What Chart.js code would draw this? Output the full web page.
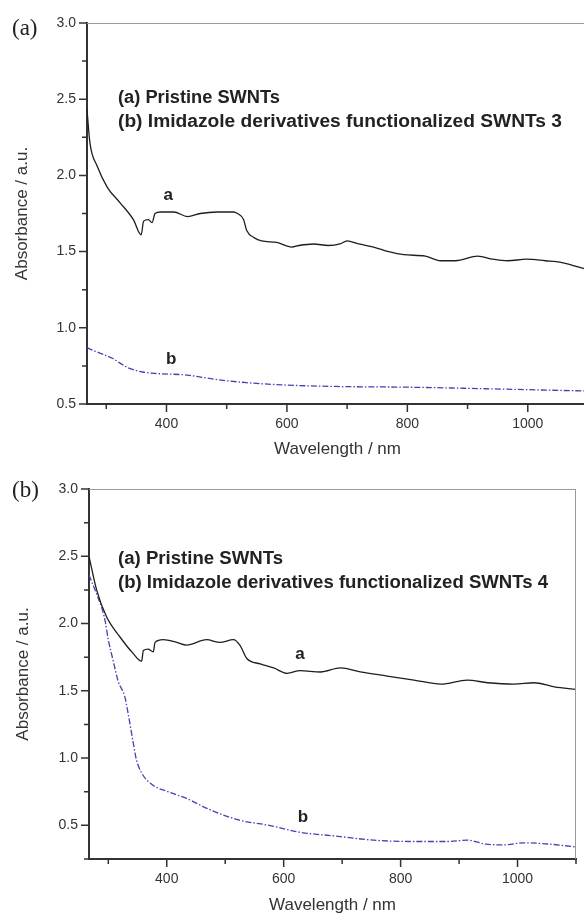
<!DOCTYPE html>
<html>
<head>
<meta charset="utf-8">
<title>UV-vis-NIR spectra of SWNTs</title>
<script src="https://cdn.jsdelivr.net/npm/chart.js@4.4.1/dist/chart.umd.min.js"></script>
<style>
    html, body { margin: 0; padding: 0; background: #fff; overflow: hidden; }
    #page { position: relative; width: 584px; height: 916px; overflow: hidden; }
    #panelA { position: absolute; left: 0; top: 0; }
    #panelB { position: absolute; left: 0; top: 460px; }
</style>
</head>
<body>
<div id="page">
    <canvas id="panelA" width="600" height="460"></canvas>
    <canvas id="panelB" width="588" height="456"></canvas>
</div>
<script>
// Spectra, panel (a): pristine SWNTs and SWNTs 3
const pristineA_nm  = [268, 273, 285, 302, 323, 345, 358, 362, 370, 376, 381, 390, 412, 435, 456, 484, 511, 518, 528, 533, 546, 558, 583, 608, 620, 644, 669, 688, 700, 719, 744, 769, 794, 830, 855, 880, 917, 942, 967, 998, 1029, 1055, 1100];
const pristineA_abs = [2.43, 2.21, 2.06, 1.92, 1.82, 1.71, 1.61, 1.70, 1.71, 1.69, 1.75, 1.76, 1.76, 1.73, 1.75, 1.76, 1.76, 1.75, 1.71, 1.64, 1.59, 1.57, 1.56, 1.53, 1.54, 1.55, 1.54, 1.55, 1.57, 1.55, 1.53, 1.50, 1.48, 1.47, 1.44, 1.44, 1.47, 1.45, 1.44, 1.45, 1.44, 1.43, 1.38];

const swnt3_nm  = [268, 273, 310, 335, 360, 384, 434, 484, 533, 595, 682, 805, 930, 1100];
const swnt3_abs = [0.87, 0.86, 0.80, 0.74, 0.71, 0.70, 0.69, 0.66, 0.64, 0.625, 0.615, 0.61, 0.60, 0.585];

// Spectra, panel (b): pristine SWNTs and SWNTs 4
const pristineB_nm  = [267, 280, 297, 320, 342, 357, 360, 368, 377, 380, 394, 417, 434, 468, 491, 514, 525, 537, 560, 583, 606, 628, 663, 697, 731, 777, 823, 869, 914, 949, 994, 1028, 1063, 1100];
const pristineB_abs = [2.50, 2.25, 2.05, 1.90, 1.78, 1.72, 1.80, 1.81, 1.79, 1.86, 1.88, 1.86, 1.84, 1.88, 1.86, 1.88, 1.84, 1.74, 1.70, 1.67, 1.63, 1.65, 1.64, 1.67, 1.64, 1.61, 1.58, 1.55, 1.58, 1.56, 1.55, 1.56, 1.53, 1.51];

const swnt4_nm  = [267, 280, 290, 295, 300, 308, 317, 328, 334, 342, 348, 357, 376, 402, 434, 472, 523, 575, 626, 690, 754, 818, 882, 914, 946, 978, 1010, 1042, 1100];
const swnt4_abs = [2.36, 2.22, 2.10, 2.01, 1.88, 1.73, 1.57, 1.46, 1.33, 1.13, 0.99, 0.89, 0.80, 0.75, 0.70, 0.62, 0.54, 0.50, 0.45, 0.42, 0.39, 0.38, 0.38, 0.39, 0.36, 0.355, 0.37, 0.365, 0.34];

// Axis limits and tick steps
const xRangeA = [268, 1100];
const xRangeB = [267, 1100];
const yRangeA = [0.5, 3.0];
const yRangeB = [0.25, 3.0];
const xStep = 100;   // minor step, labels every 200
const yStep = 0.25;  // minor step, labels every 0.5

const legendA = ['(a) Pristine SWNTs', '(b) Imidazole derivatives functionalized SWNTs 3'];
const legendB = ['(a) Pristine SWNTs', '(b) Imidazole derivatives functionalized SWNTs 4'];

const SANS = '"Liberation Sans", Arial, Helvetica, sans-serif';
const SERIF = '"Liberation Serif", "Times New Roman", serif';
const AXIS_COLOR = '#333';

function toPoints(xs, ys) {
    return xs.map((x, i) => ({ x: x, y: ys[i] }));
}

function isMultiple(v, step) {
    const r = v / step;
    return Math.abs(r - Math.round(r)) < 1e-6;
}

// Frame, outward tick marks and the text drawn on top of each panel
const panelDecor = {
    id: 'panelDecor',
    afterDraw(chart, args, opts) {
        const ctx = chart.ctx;
        const area = chart.chartArea;
        const xs = chart.scales.x;
        const ys = chart.scales.y;

        ctx.save();

        // thin grey frame at the top (and right on panel b)
        ctx.strokeStyle = '#9a9a9a';
        ctx.lineWidth = 1;
        ctx.beginPath();
        ctx.moveTo(area.left, area.top + 0.5);
        ctx.lineTo(area.right, area.top + 0.5);
        if (opts.rightFrame) {
            ctx.moveTo(area.right - 0.5, area.top);
            ctx.lineTo(area.right - 0.5, area.bottom);
        }
        ctx.stroke();

        // outward ticks, long on labelled values
        ctx.strokeStyle = AXIS_COLOR;
        ctx.lineWidth = 1.5;
        ctx.beginPath();
        xs.ticks.forEach(t => {
            const p = xs.getPixelForValue(t.value);
            const len = isMultiple(t.value, 2 * xStep) ? 8 : 5;
            ctx.moveTo(p, area.bottom);
            ctx.lineTo(p, area.bottom + len);
        });
        ys.ticks.forEach(t => {
            const p = ys.getPixelForValue(t.value);
            const len = isMultiple(t.value, 2 * yStep) ? 8 : 5;
            ctx.moveTo(area.left, p);
            ctx.lineTo(area.left - len, p);
        });
        ctx.stroke();

        // panel letter
        ctx.fillStyle = '#222';
        ctx.font = '23px ' + SERIF;
        ctx.textAlign = 'left';
        ctx.textBaseline = 'middle';
        ctx.fillText(opts.panel, 12, opts.panelY);

        // legend text, each line stretched to its set width
        ctx.font = 'bold 18px ' + SANS;
        opts.legend.forEach((line, i) => {
            const w = ctx.measureText(line).width;
            const sx = opts.legendWidths[i] / w;
            ctx.save();
            ctx.translate(opts.legendX, opts.legendY + i * 24);
            ctx.scale(sx, 1);
            ctx.fillText(line, 0, 0);
            ctx.restore();
        });

        // curve letters, placed in data units
        ctx.font = 'bold 17px ' + SANS;
        ctx.textAlign = 'center';
        opts.curveLabels.forEach(l => {
            ctx.fillText(l.text, xs.getPixelForValue(l.x), ys.getPixelForValue(l.y));
        });

        ctx.restore();
    }
};

function makePanel(canvasId, cfg) {
    const ctx = document.getElementById(canvasId).getContext('2d');
    return new Chart(ctx, {
        type: 'line',
        data: {
            datasets: [
                {
                    label: 'Pristine SWNTs',
                    data: toPoints(cfg.pristineX, cfg.pristineY),
                    borderColor: '#1e1e1e',
                    borderWidth: 1.3,
                    cubicInterpolationMode: 'monotone',
                    pointRadius: 0
                },
                {
                    label: 'Functionalized SWNTs',
                    data: toPoints(cfg.funcX, cfg.funcY),
                    borderColor: '#4242b2',
                    borderWidth: 1.3,
                    borderDash: [6, 2, 1.5, 2],
                    cubicInterpolationMode: 'monotone',
                    pointRadius: 0
                }
            ]
        },
        options: {
            responsive: false,
            animation: false,
            layout: { padding: { left: 0, top: cfg.top, right: cfg.right, bottom: 0 } },
            plugins: {
                legend: { display: false },
                tooltip: { enabled: false },
                panelDecor: cfg.decor
            },
            scales: {
                x: {
                    type: 'linear',
                    min: cfg.xRange[0],
                    max: cfg.xRange[1],
                    afterFit: s => { s.height = cfg.xAxisHeight; },
                    grid: { display: true, drawOnChartArea: false, drawTicks: false },
                    border: { color: AXIS_COLOR, width: 2 },
                    ticks: {
                        stepSize: xStep,
                        includeBounds: false,
                        autoSkip: false,
                        maxRotation: 0,
                        padding: 12,
                        color: '#333',
                        font: { family: SANS, size: 14 },
                        callback: v => isMultiple(v, 2 * xStep) ? String(v) : ''
                    },
                    title: {
                        display: true,
                        text: 'Wavelength / nm',
                        color: '#333',
                        font: { family: SANS, size: 17 },
                        padding: { top: 0, bottom: 0 }
                    }
                },
                y: {
                    type: 'linear',
                    min: cfg.yRange[0],
                    max: cfg.yRange[1],
                    afterFit: s => { s.width = cfg.yAxisWidth; },
                    grid: { display: true, drawOnChartArea: false, drawTicks: false },
                    border: { color: AXIS_COLOR, width: 2 },
                    ticks: {
                        stepSize: yStep,
                        includeBounds: false,
                        autoSkip: false,
                        padding: 11,
                        color: '#333',
                        font: { family: SANS, size: 14 },
                        callback: v => isMultiple(v, 2 * yStep) ? v.toFixed(1) : ''
                    },
                    title: {
                        display: true,
                        text: 'Absorbance / a.u.',
                        color: '#333',
                        font: { family: SANS, size: 17 },
                        padding: { top: cfg.yTitlePad, bottom: 0 }
                    }
                }
            }
        },
        plugins: [panelDecor]
    });
}

makePanel('panelA', {
    pristineX: pristineA_nm, pristineY: pristineA_abs,
    funcX: swnt3_nm, funcY: swnt3_abs,
    xRange: xRangeA, yRange: yRangeA,
    top: 23, right: 12, xAxisHeight: 56, yAxisWidth: 87, yTitlePad: 12,
    decor: {
        panel: '(a)', panelY: 29,
        legend: legendA, legendWidths: [162, 444], legendX: 118, legendY: 98,
        rightFrame: false,
        curveLabels: [{ text: 'a', x: 403, y: 1.87 }, { text: 'b', x: 408, y: 0.79 }]
    }
});

makePanel('panelB', {
    pristineX: pristineB_nm, pristineY: pristineB_abs,
    funcX: swnt4_nm, funcY: swnt4_abs,
    xRange: xRangeB, yRange: yRangeB,
    top: 29, right: 12, xAxisHeight: 57, yAxisWidth: 89, yTitlePad: 13,
    decor: {
        panel: '(b)', panelY: 31,
        legend: legendB, legendWidths: [165, 430], legendX: 118, legendY: 99,
        rightFrame: true,
        curveLabels: [{ text: 'a', x: 628, y: 1.77 }, { text: 'b', x: 633, y: 0.56 }]
    }
});
</script>
</body>
</html>
